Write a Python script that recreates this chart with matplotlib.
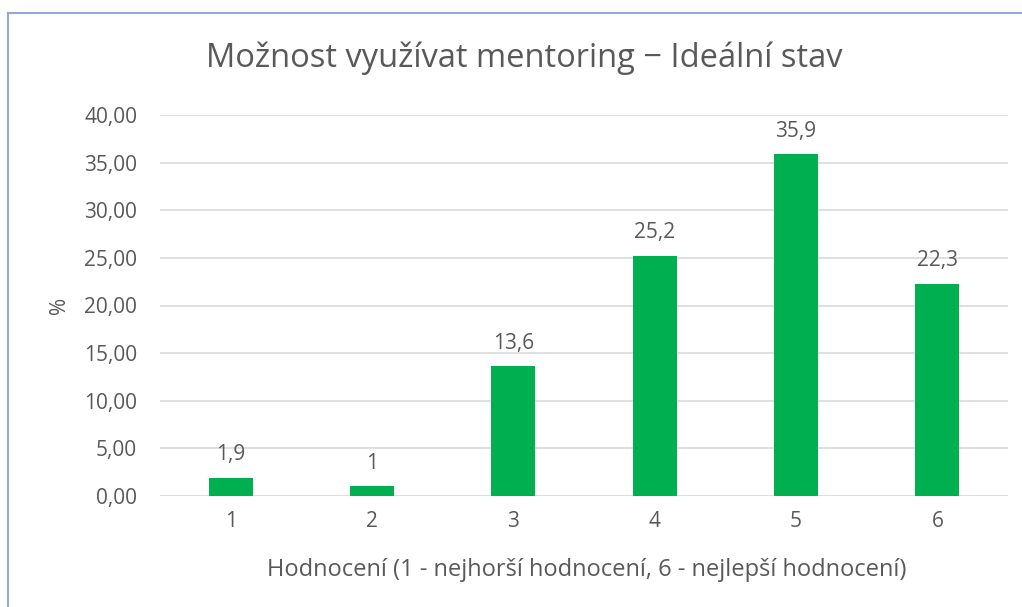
import matplotlib
matplotlib.use("Agg")
import matplotlib.pyplot as plt
from matplotlib.lines import Line2D

categories = ["1", "2", "3", "4", "5", "6"]
values = [1.9, 1.0, 13.6, 25.2, 35.9, 22.3]
labels = ["1,9", "1", "13,6", "25,2", "35,9", "22,3"]
yticks = [0, 5, 10, 15, 20, 25, 30, 35, 40]
ytick_labels = ["0,00", "5,00", "10,00", "15,00", "20,00", "25,00", "30,00", "35,00", "40,00"]

W, H = 1022, 607
fig = plt.figure(figsize=(W / 100, H / 100), dpi=100)
plt.rcParams['font.family'] = ['Open Sans', 'DejaVu Sans']
txt = '#595959'

ax = fig.add_axes([160 / W, 1 - 496 / H, (1008 - 160) / W, (496 - 115) / H])
x = list(range(len(categories)))
ax.bar(x, values, width=0.31, color='#00B050', zorder=3)
for xi, v, lab in zip(x, values, labels):
    ax.annotate(lab, (xi, v), xytext=(0, 9), textcoords='offset points',
                ha='center', va='bottom', fontsize=15, color=txt)
ax.set_xlim(-0.5, 5.5)
ax.set_ylim(0, 40)
ax.set_yticks(yticks)
ax.set_yticklabels(ytick_labels)
ax.set_xticks(x)
ax.set_xticklabels(categories)
ax.tick_params(axis='both', length=0, labelsize=15, labelcolor=txt)
ax.tick_params(axis='y', pad=16.5)
ax.tick_params(axis='x', pad=11)
ax.grid(axis='y', color='#D9D9D9', linewidth=1.2, zorder=0)
for s in ax.spines.values():
    s.set_visible(False)
ax.set_ylabel('%', fontsize=15, color=txt)
ax.yaxis.set_label_coords((60 - 160) / 848, 0.5)
ax.set_xlabel('Hodnocení (1 - nejhorší hodnocení, 6 - nejlepší hodnocení)', fontsize=17, color=txt)
ax.xaxis.set_label_coords((587 - 160) / 848, -(570 - 496) / 381)
ax.xaxis.label.set_va('center')
ax.yaxis.label.set_va('center')

fig.text(524 / W, 1 - 58 / H, 'Možnost využívat mentoring − Ideální stav', ha='center', va='center',
         fontsize=23.5, color=txt)

bc = '#8EAADB'
fig.add_artist(Line2D([8 / W, 8 / W], [0, 1 - 13 / H], color=bc, linewidth=1.5, transform=fig.transFigure))
fig.add_artist(Line2D([8 / W, 1], [1 - 13 / H, 1 - 13 / H], color=bc, linewidth=1.5, transform=fig.transFigure))

fig.savefig('out.png', dpi=100)
